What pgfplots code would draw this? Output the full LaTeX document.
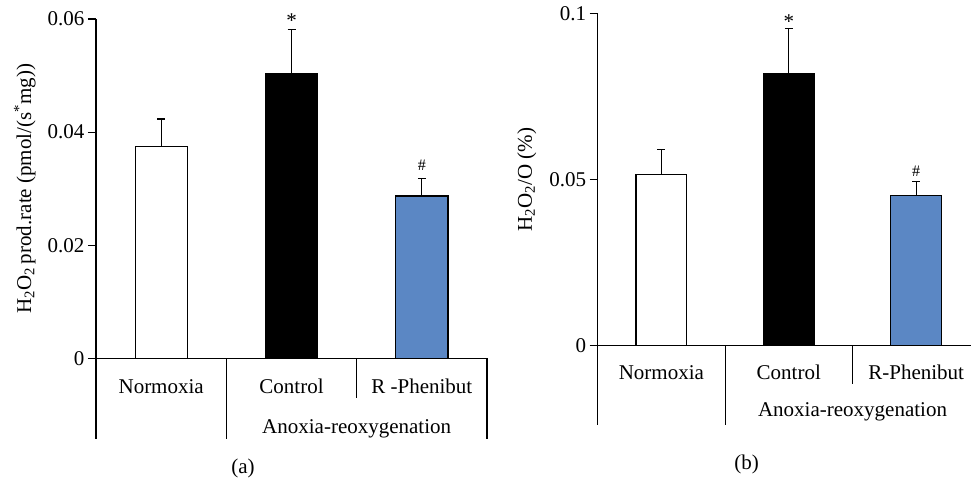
\documentclass[border=0pt]{standalone}
\usepackage{fontspec}
\setmainfont{Liberation Serif}
\usepackage{pgfplots}
\pgfplotsset{compat=1.18}
\definecolor{barblue}{HTML}{5B87C4}
\begin{document}
\begin{tikzpicture}
\useasboundingbox (0pt,0pt) rectangle (971pt,479pt);
\pgfplotsset{
  myaxis/.style={
    scale only axis, clip=false,
    axis x line=bottom, axis y line=left,
    axis line style={-, line width=1.2pt, black},
    xtick=\empty, scaled y ticks=false,
    tick align=outside, major tick length=8pt,
    ytick style={line width=1.2pt, black},
    font=\fontsize{21}{25}\selectfont,
    tick label style={font=\fontsize{21}{25}\selectfont},
  },
  mybar/.style={ybar, bar width=0.4, bar shift=0pt, draw=black, line width=1.2pt,
    error bars/y dir=plus, error bars/y explicit,
    error bars/error bar style={line width=1.2pt, black},
    error bars/error mark options={rotate=90, mark size=4pt, line width=1.2pt, black}},
}
% ---------------- panel (a)
\begin{axis}[myaxis, at={(96pt,120.7pt)}, anchor=south west,
  width=391pt, height=339.3pt,
  xmin=0, xmax=3, ymin=0, ymax=0.06,
  ytick={0,0.02,0.04,0.06}, yticklabels={0,0.02,0.04,0.06},
  ylabel={H\textsubscript{2}O\textsubscript{2}\,prod.rate (pmol/(s\textsuperscript{*}mg))},
  y label style={at={(axis description cs:-0.182,0.5)}, anchor=center}]
\addplot[mybar, fill=white] coordinates {(0.5,0.0374) +- (0,0.0049)};
\addplot[mybar, fill=black] coordinates {(1.5,0.0503) +- (0,0.0078)};
\addplot[mybar, fill=barblue] coordinates {(2.5,0.0287) +- (0,0.0031)};
\node[anchor=base] at (axis cs:1.5,0.0581) [yshift=2pt] {*};
\node[anchor=base, font=\fontsize{16}{18}\selectfont] at (axis cs:2.5,0.0318) [yshift=8pt] {\#};
\draw[line width=1.2pt] (axis cs:0,0) -- ++(0pt,-80.7pt);
\draw[line width=1.2pt] (axis cs:1,0) -- ++(0pt,-80.7pt);
\draw[line width=1.2pt] (axis cs:2,0) -- ++(0pt,-39.7pt);
\draw[line width=1.2pt] (axis cs:3,0) -- ++(0pt,-80.7pt);
\node[anchor=base] at (axis cs:0.5,0) [yshift=-35pt] {Normoxia};
\node[anchor=base] at (axis cs:1.5,0) [yshift=-35pt] {Control};
\node[anchor=base] at (axis cs:2.5,0) [yshift=-35pt] {R -Phenibut};
\node[anchor=base] at (axis cs:2,0) [yshift=-75pt] {Anoxia-reoxygenation};
\end{axis}
% ---------------- panel (b)
\begin{axis}[myaxis, at={(597.7pt,133.3pt)}, anchor=south west,
  width=373.3pt, height=332.4pt,
  xmin=0, xmax=2.93, ymin=0, ymax=0.1,
  ytick={0,0.05,0.1}, yticklabels={0,0.05,0.1},
  ylabel={H\textsubscript{2}O\textsubscript{2}/O (\%)},
  y label style={at={(axis description cs:-0.19,0.5)}, anchor=center}]
\addplot[mybar, fill=white] coordinates {(0.5,0.0516) +- (0,0.0075)};
\addplot[mybar, fill=black] coordinates {(1.5,0.0818) +- (0,0.0136)};
\addplot[mybar, fill=barblue] coordinates {(2.5,0.0453) +- (0,0.0042)};
\node[anchor=base] at (axis cs:1.5,0.0954) [yshift=0pt] {*};
\node[anchor=base, font=\fontsize{16}{18}\selectfont] at (axis cs:2.5,0.0495) [yshift=5pt] {\#};
\draw[line width=1.2pt] (axis cs:0,0) -- ++(0pt,-79.3pt);
\draw[line width=1.2pt] (axis cs:1,0) -- ++(0pt,-79.3pt);
\draw[line width=1.2pt] (axis cs:2,0) -- ++(0pt,-38.3pt);
\node[anchor=base] at (axis cs:0.5,0) [yshift=-33.3pt] {Normoxia};
\node[anchor=base] at (axis cs:1.5,0) [yshift=-33.3pt] {Control};
\node[anchor=base] at (axis cs:2.5,0) [yshift=-33.3pt] {R-Phenibut};
\node[anchor=base] at (axis cs:2,0) [yshift=-71pt] {Anoxia-reoxygenation};
\end{axis}
\node[font=\fontsize{21}{25}\selectfont] at (243pt,11pt) {(a)};
\node[font=\fontsize{21}{25}\selectfont] at (746.7pt,15pt) {(b)};
\end{tikzpicture}
\end{document}
